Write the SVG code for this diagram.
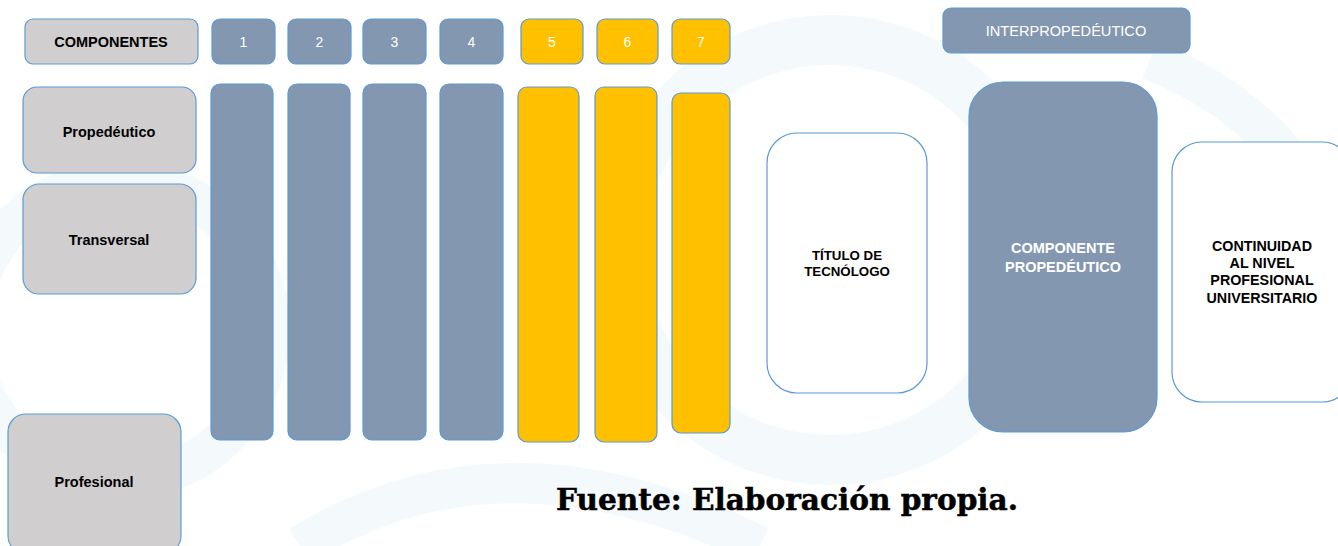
<svg xmlns="http://www.w3.org/2000/svg" width="1338" height="546" viewBox="0 0 1338 546">
<style>
.box{stroke:#5B9BD5;stroke-width:1.2}
.blue{fill:#8497B0}
.gold{fill:#FFC000}
.gray{fill:#D0CECE}
.white{fill:#FFFFFF}
.lbl{font-family:"Liberation Sans",Arial,sans-serif;font-weight:bold;font-size:14.5px;fill:#000;text-anchor:middle}
.num{font-family:"Liberation Sans",Arial,sans-serif;font-size:14px;fill:#FFFFFF;text-anchor:middle}
.wl{font-family:"Liberation Sans",Arial,sans-serif;font-weight:bold;font-size:14.5px;fill:#FFFFFF;text-anchor:middle}
.bl{font-family:"Liberation Sans",Arial,sans-serif;font-weight:bold;font-size:13.3px;fill:#000;text-anchor:middle}
</style>
<rect width="1338" height="546" fill="#FFFFFF"/>
<g id="watermark" fill="none" stroke="#F4F9FB">
<circle cx="830" cy="250" r="210" stroke-width="50"/>
<circle cx="120" cy="330" r="150" stroke-width="40"/>
<path d="M1150 60 Q1300 120 1338 260" stroke-width="40"/>
<path d="M300 546 Q500 420 760 546" stroke-width="40"/>
</g>
<g id="componentes"><rect class="box gray" x="25" y="19" width="173" height="45" rx="8"/><text class="lbl" x="111" y="47">COMPONENTES</text></g>
<g id="n1"><rect class="box blue" x="212" y="19" width="63" height="45" rx="8"/><text class="num" x="243.5" y="47">1</text></g>
<g id="n2"><rect class="box blue" x="288" y="19" width="63" height="45" rx="8"/><text class="num" x="319.5" y="47">2</text></g>
<g id="n3"><rect class="box blue" x="363" y="19" width="63" height="45" rx="8"/><text class="num" x="394.5" y="47">3</text></g>
<g id="n4"><rect class="box blue" x="440" y="19" width="63" height="45" rx="8"/><text class="num" x="471.5" y="47">4</text></g>
<g id="n5"><rect class="box gold" x="521" y="19" width="62" height="45" rx="8"/><text class="num" x="552" y="47">5</text></g>
<g id="n6"><rect class="box gold" x="597" y="19" width="61" height="45" rx="8"/><text class="num" x="627.5" y="47">6</text></g>
<g id="n7"><rect class="box gold" x="672" y="19" width="58" height="45" rx="8"/><text class="num" x="701" y="47">7</text></g>
<g id="interpropedeutico"><rect class="box blue" x="943" y="8" width="247" height="45" rx="8"/><text class="num" x="1066" y="36" style="font-size:14.6px">INTERPROPEDÉUTICO</text></g>
<g id="propedeutico"><rect class="box gray" x="23" y="87" width="173" height="86" rx="14"/><text class="lbl" x="109" y="137">Propedéutico</text></g>
<g id="transversal"><rect class="box gray" x="23" y="184" width="173" height="110" rx="16"/><text class="lbl" x="109" y="245">Transversal</text></g>
<g id="profesional"><rect class="box gray" x="8" y="414" width="173" height="140" rx="18"/><text class="lbl" x="94" y="487">Profesional</text></g>
<g id="c1"><rect class="box blue" x="211" y="84" width="62" height="356" rx="9"/></g>
<g id="c2"><rect class="box blue" x="288" y="84" width="62" height="356" rx="9"/></g>
<g id="c3"><rect class="box blue" x="363" y="84" width="63" height="356" rx="9"/></g>
<g id="c4"><rect class="box blue" x="440" y="84" width="63" height="356" rx="9"/></g>
<g id="c5"><rect class="box gold" x="518" y="87" width="61" height="355" rx="9"/></g>
<g id="c6"><rect class="box gold" x="595" y="87" width="62" height="355" rx="9"/></g>
<g id="c7"><rect class="box gold" x="672" y="93" width="58" height="340" rx="9"/></g>
<g id="titulo"><rect class="box white" x="767" y="133" width="160" height="260" rx="30"/><text class="bl" x="847" y="260">TÍTULO DE</text><text class="bl" x="847" y="276">TECNÓLOGO</text></g>
<g id="componente-propedeutico"><rect class="box blue" x="969" y="82" width="188" height="350" rx="34"/><text class="wl" x="1063" y="253">COMPONENTE</text><text class="wl" x="1063" y="272">PROPEDÉUTICO</text></g>
<g id="continuidad"><rect class="box white" x="1172" y="142" width="180" height="260" rx="30"/><text class="bl" x="1262" y="251" style="font-size:14.3px">CONTINUIDAD</text><text class="bl" x="1262" y="268" style="font-size:14.3px">AL NIVEL</text><text class="bl" x="1262" y="285" style="font-size:14.3px">PROFESIONAL</text><text class="bl" x="1262" y="303" style="font-size:14.3px">UNIVERSITARIO</text></g>
<g id="connectors"></g>
<text x="556" y="510" textLength="462" lengthAdjust="spacingAndGlyphs" style="font-family:'DejaVu Serif','Liberation Serif',serif;font-weight:bold;font-size:29px;fill:#000;stroke:#000;stroke-width:0.5">Fuente: Elaboración propia.</text>
</svg>
